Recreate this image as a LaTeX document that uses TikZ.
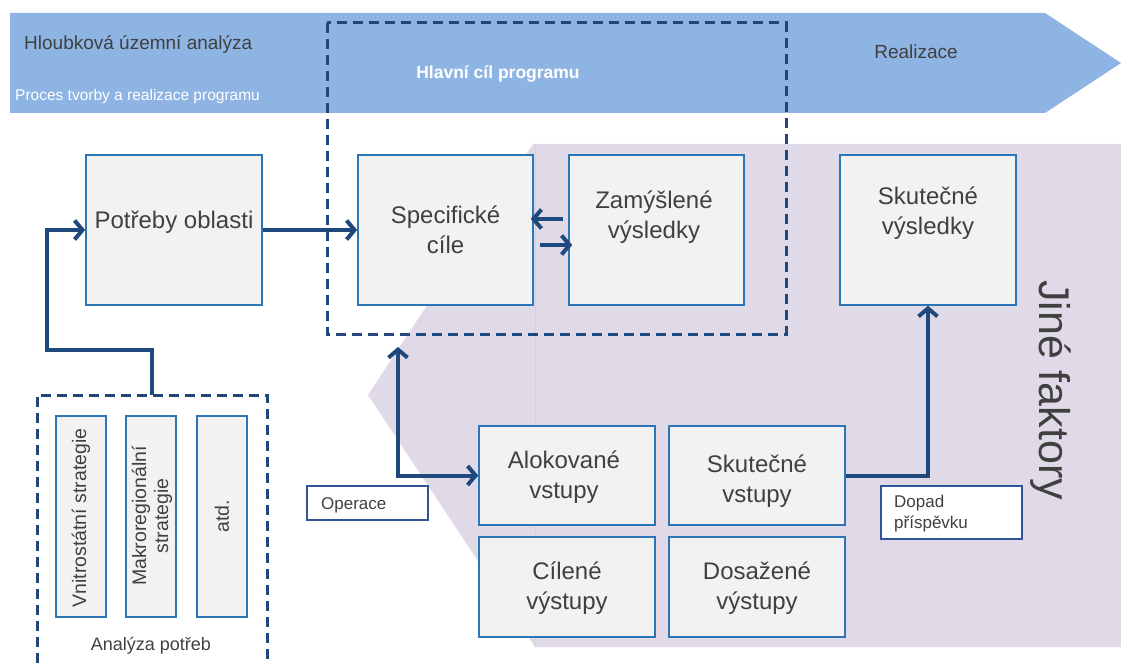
\documentclass[tikz,border=0pt]{standalone}
\usepackage{fontspec}
\setmainfont{Liberation Sans}
\usetikzlibrary{arrows.meta}

\definecolor{banner}{HTML}{8EB4E3}
\definecolor{lilac}{HTML}{E0DAE8}
\definecolor{lilacline}{HTML}{D6CFE0}
\definecolor{navy}{HTML}{1F497D}
\definecolor{frameblue}{HTML}{2E75B6}
\definecolor{boxfill}{HTML}{F2F2F2}
\definecolor{ink}{HTML}{404040}
\definecolor{tagblue}{HTML}{2F5597}

\begin{document}
\begin{tikzpicture}[x=1pt,y=-1pt,
  box/.style={draw=frameblue, fill=boxfill, line width=1.6pt, inner sep=0pt},
  bigbox/.style={box, minimum width=176pt, minimum height=150pt},
  midbox/.style={box, minimum width=176pt, minimum height=99pt},
  stratbox/.style={box, line width=1.5pt, minimum width=50pt, minimum height=201pt},
  tagbox/.style={draw=tagblue, fill=white, line width=1.6pt, inner sep=0pt},
  boxtext/.style={text=ink, font=\fontsize{24}{30}\selectfont, align=center, inner sep=0pt},
  strattext/.style={text=ink, font=\fontsize{19.5}{22}\selectfont, align=center, inner sep=0pt, rotate=90},
  tagtext/.style={text=ink, font=\fontsize{17}{21}\selectfont, align=left, inner sep=0pt},
  dashbox/.style={draw=navy, line width=3pt, dash pattern=on 10pt off 6pt},
  tip/.tip={Straight Barb[length=8pt,width=19pt]},
  arr/.style={draw=navy, line width=4pt, -tip},
  arrboth/.style={draw=navy, line width=4pt, tip-tip}
]
\useasboundingbox (0,0) rectangle (1121,663);

% process banner
\fill[banner] (10,13) -- (1045,13) -- (1121,63) -- (1045,113) -- (10,113) -- cycle;
\node[anchor=base west, text=ink, font=\fontsize{19}{23}\selectfont, inner sep=0pt] (tHloub) at (24,50) {Hloubková územní analýza};
\node[anchor=base west, text=white, font=\fontsize{15.5}{19}\selectfont, inner sep=0pt] (tProces) at (15,101) {Proces tvorby a realizace programu};
\node[anchor=base, text=white, font=\bfseries\fontsize{17.5}{21}\selectfont, inner sep=0pt] (tHlavni) at (498,79) {Hlavní cíl programu};
\node[anchor=base, text=ink, font=\fontsize{19}{23}\selectfont, inner sep=0pt] (tReal) at (916,59) {Realizace};

% area of other factors
\fill[lilac] (533,144) -- (1121,144) -- (1121,647) -- (535,647) -- (368,395) -- cycle;
\draw[lilacline, line width=0.6pt] (535,144) -- (535,647);
\node[anchor=base, rotate=-90, text=ink, font=\fontsize{43}{50}\selectfont, inner sep=0pt] (tJine) at (1039,390) {Jiné faktory};

% main goal frame
\draw[dashbox] (327,23) rectangle (786,334);

% needs analysis frame (open at the bottom)
\draw[dashbox] (37,663) -- (37,395) -- (267,395) -- (267,663);
\coordinate (apTop) at (152,395);
\coordinate (apBend) at (47,350);

% upper row
\node[bigbox] (pot) at (174,230) {};
\node[boxtext] (tPot) at (174,222) {\strut Potřeby oblasti};
\node[bigbox, minimum width=175pt] (spec) at (445.5,230) {};
\node[boxtext] (tSpec) at (445.5,232) {\strut Specifické\\\strut cíle};
\node[bigbox, minimum width=175pt] (zam) at (656.5,230) {};
\node[boxtext] (tZam) at (654,217) {\strut Zamýšlené\\\strut výsledky};
\node[bigbox] (skvys) at (928,230) {};
\node[boxtext] (tSkvys) at (928,213) {\strut Skutečné\\\strut výsledky};

% lower block
\node[midbox] (alok) at (567,475.5) {};
\node[boxtext] (tAlok) at (564,477) {\strut Alokované\\\strut vstupy};
\node[midbox] (skvst) at (757,475.5) {};
\node[boxtext] (tSkvst) at (757,481) {\strut Skutečné\\\strut vstupy};
\node[midbox, minimum height=100pt] (cil) at (567,587) {};
\node[boxtext] (tCil) at (567,588) {\strut Cílené\\\strut výstupy};
\node[midbox, minimum height=100pt] (dos) at (757,587) {};
\node[boxtext] (tDos) at (757,588) {\strut Dosažené\\\strut výstupy};

% tags
\node[tagbox, minimum width=121pt, minimum height=34pt] (oper) at (367.5,503) {};
\node[tagtext, anchor=base west] (tOper) at (321,509) {Operace};
\node[tagbox, minimum width=141pt, minimum height=53pt] (dopad) at (951.5,512.5) {};
\node[tagtext, anchor=west] (tDopad) at (894,513.3) {\strut Dopad\\\strut příspěvku};

% strategies
\node[stratbox] (s1) at (81,516.5) {};
\node[strattext] (ts1) at (81,518) {Vnitrostátní strategie};
\node[stratbox] (s2) at (151,516.5) {};
\node[strattext] (ts2) at (152,516) {Makroregionální\\strategie};
\node[stratbox] (s3) at (222,516.5) {};
\node[strattext] (ts3) at (222,516) {atd.};
\node[anchor=base, text=ink, font=\fontsize{18}{22}\selectfont, inner sep=0pt] (tAnal) at (151,650) {Analýza potřeb};

% connectors
\draw[arr] (apTop) |- (apBend) |- (pot.west);
\draw[arr] (pot.east) -- (spec.west);
\draw[arr] ([xshift=-5pt,yshift=11pt]zam.west) -- ([xshift=-3pt,yshift=11pt]spec.east);
\draw[arr] ([xshift=6pt,yshift=-15pt]spec.east) -- ([xshift=4pt,yshift=-15pt]zam.west);
\coordinate (opTop) at (398,347);
\draw[arrboth] (opTop) |- (alok.west);
\draw[arr] (skvst.east) -| (skvys.south);
\end{tikzpicture}
\end{document}
